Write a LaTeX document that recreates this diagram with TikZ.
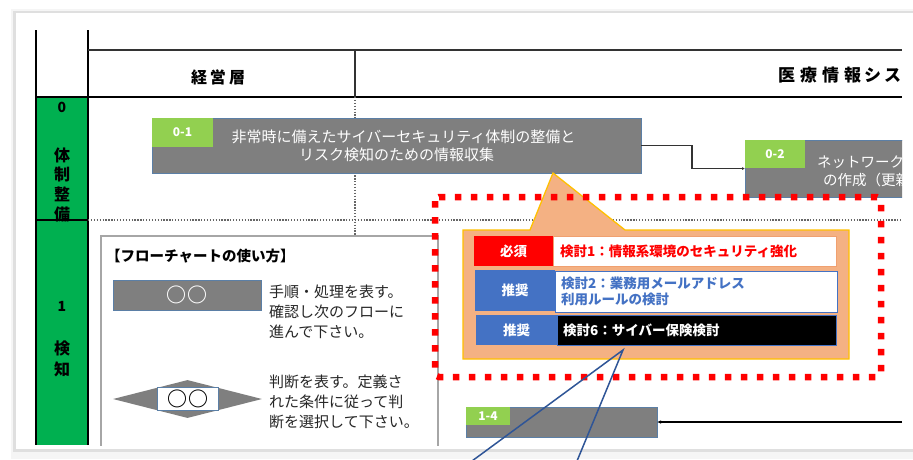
\documentclass[tikz,border=0pt]{standalone}
\usepackage{fontspec}
\setmainfont{Noto Sans CJK JP}
\usetikzlibrary{arrows.meta,shapes.geometric}
\definecolor{grn}{HTML}{00B050}
\definecolor{lgrn}{HTML}{92D050}
\definecolor{boxgray}{HTML}{7F7F7F}
\definecolor{boxedge}{HTML}{5B7FA6}
\definecolor{orng}{HTML}{F4B183}
\definecolor{orngedge}{HTML}{F0A070}
\definecolor{yel}{HTML}{FFC000}
\definecolor{blu}{HTML}{4472C4}
\definecolor{navy}{HTML}{2F5597}
\definecolor{redc}{HTML}{FF0000}
\newcommand{\fs}[1]{\fontsize{#1}{#1}\selectfont}
\tikzset{
  procbox/.style={draw=boxedge, fill=boxgray, line width=0.8pt, anchor=north west, inner sep=0pt, outer sep=0pt, text=white, align=center},
  numtag/.style={fill=lgrn, text=white, font=\bfseries\fs{12}, anchor=north west, inner sep=0pt, outer sep=0pt},
  tabline/.style={line width=2pt, black},
  dotline/.style={gray!80!black, line width=1.1pt, dash pattern=on 1.3pt off 1.6pt},
  colchar/.style={font=\bfseries\fs{16}, inner sep=0pt},
  celltag/.style={anchor=north west, inner sep=0pt, outer sep=0pt, text=white, font=\bfseries\fs{13.5}},
  celltext/.style={anchor=north west, inner sep=0pt, outer sep=0pt, fill=white, line width=0.8pt},
  legtext/.style={anchor=west, inner sep=0pt, align=left, font=\fs{15}, text=black!85},
}
\begin{document}
\begin{tikzpicture}[x=1pt,y=-1pt]
\useasboundingbox (0,0) rectangle (913,459);
% screenshot frame with shadow
\fill[gray!8] (11,9) rectangle (913,459);
\fill[gray!25] (13,11) rectangle (913,452);
\fill[white] (16,13) rectangle (913,449);

\begin{scope}
\clip (16,13) rectangle (902,445);
% green column
\fill[grn] (36,97) rectangle (88,445);
% table lines
\draw[tabline] (36,30) -- (36,445);
\draw[tabline] (88,30) -- (88,445);
\draw[line width=1.2pt, black!80] (88,50) -- (902,50);
\draw[line width=2.2pt] (36,97) -- (902,97);
\draw[line width=1.2pt, black!80] (355,50) -- (355,97);
\draw[dotline] (355,97) -- (355,236);
\draw[dotline] (88,220) -- (902,220);

% header texts
\node[font=\bfseries\fs{16}, inner sep=0pt] (hdr1) at (218,77) {経\hspace{3pt}営\hspace{3pt}層};
\node[font=\bfseries\fs{17}, inner sep=0pt, anchor=west] (hdr2) at (778,75) {医\hspace{5pt}療\hspace{5pt}情\hspace{5pt}報\hspace{3pt}シ\hspace{3pt}ス\hspace{3pt}テム};

% row labels
\node[colchar, font=\bfseries\fs{14}] (r0n) at (62,107) {0};
\node[colchar] (r0a) at (62,155) {体};
\node[colchar] (r0b) at (62,174) {制};
\node[colchar] (r0c) at (62,194) {整};
\node[colchar] (r0d) at (62,214) {備};
\node[colchar, font=\bfseries\fs{14}] (r1n) at (62,306) {1};
\node[colchar] (r1a) at (62,348) {検};
\node[colchar] (r1b) at (62,369) {知};
\draw[line width=1.5pt] (36,220) -- (88,220);

% box 0-1
\node[procbox, minimum width=489pt, minimum height=55pt, font=\fs{15}] (b01) at (152,118)
  {\hspace{14pt}非常時に備えたサイバーセキュリティ体制の整備と\\[3pt]リスク検知のための情報収集};
\node[numtag, minimum width=61pt, minimum height=29pt] (l01) at (152,118) {0-1};

% box 0-2
\node[procbox, minimum width=240pt, minimum height=57pt] (b02) at (745,140) {};
\node[numtag, minimum width=60pt, minimum height=28pt] (l02) at (745,140) {0-2};
\node[anchor=west, inner sep=0pt, align=left, text=white, font=\fs{14.5}] (t02) at (817,171)
  {ネットワーク構成図\\[4pt]\hspace{6pt}の作成（更新）};

\draw[line width=1.1pt, black!80, -{Latex[length=3pt,width=3pt]}] (b01.east) -- ++(51,0) |- (b02.west);

% legend
\draw[gray!70, line width=1.6pt, fill=white] (101,236) rectangle (438,470);
\node[anchor=west, inner sep=0pt, font=\bfseries\fs{14.5}] (legt) at (106,256) {【フローチャートの使い方】};
\node[procbox, minimum width=148pt, minimum height=30pt, font=\bfseries\fs{20}] (legbox) at (113,280) {○\hspace{1pt}○};
\node[legtext] (leg1) at (269,312) {手順・処理を表す。\\[5pt]確認し次のフローに\\[5pt]進んで下さい。};
\node[diamond, fill=boxgray, minimum width=149pt, minimum height=38pt, aspect=3.9, inner sep=0pt] (dia) at (187.5,399) {};
\node[draw=boxedge, fill=white, line width=0.8pt, minimum width=61pt, minimum height=23pt, inner sep=0pt, font=\bfseries\fs{20}] (diabox) at (187.5,398.5) {○\hspace{1pt}○};
\node[legtext] (leg2) at (269,402) {判断を表す。定義さ\\[5pt]れた条件に従って判\\[5pt]断を選択して下さい。};

% box 1-4
\node[procbox, minimum width=191pt, minimum height=30pt] (b14) at (466,407) {};
\node[numtag, minimum width=44pt, minimum height=18pt] (l14) at (466,407) {1-4};
\coordinate (c14) at (902,422);
\draw[line width=1.2pt, black, -{Latex[length=4pt,width=3.5pt]}] (c14) -- (b14.east);

% callout
\draw[fill=orng, draw=yel, line width=1.3pt, line join=miter]
  (463,230) -- (530,230) -- (553,173) -- (625,230) -- (849,230) -- (849,359) -- (463,359) -- cycle;
\node[celltag, fill=redc, minimum width=79pt, minimum height=30pt] (m1) at (474,236) {必須};
\node[celltext, draw=orngedge, minimum width=283pt, minimum height=30pt] (c1) at (553,236) {};
\node[anchor=west, inner sep=0pt, text=redc, font=\bfseries\fs{13.5}] (c1t) at (560,251) {検討1：情報系環境のセキュリティ強化};
\node[celltag, fill=blu, minimum width=80pt, minimum height=41pt] (m2) at (475,270) {推奨};
\node[celltext, draw=blu, minimum width=282pt, minimum height=41pt] (c2) at (555,271) {};
\node[anchor=west, inner sep=0pt, align=left, text=blu, font=\bfseries\fs{13.5}] (c2t) at (561,291.5) {検討2：業務用メールアドレス\\[2pt]利用ルールの検討};
\node[celltag, fill=blu, minimum width=81pt, minimum height=30pt] (m3) at (476,315) {推奨};
\node[celltext, fill=black, draw=blu, minimum width=279pt, minimum height=30pt] (c3) at (557,315) {};
\node[anchor=west, inner sep=0pt, text=white, font=\bfseries\fs{13.5}] (c3t) at (563,330) {検討6：サイバー保険検討};

% red dotted frame
\draw[redc, line width=6.5pt, dash pattern=on 6.5pt off 9.5pt, rounded corners=4pt] (435,197) rectangle (881,377);
\end{scope}

% blue callout lines
\coordinate (apex) at (623,350);
\coordinate (bl) at (472,461);
\coordinate (br) at (577,461);
\draw[navy, line width=1.5pt] (bl) -- (apex) -- (br);
\end{tikzpicture}
\end{document}
